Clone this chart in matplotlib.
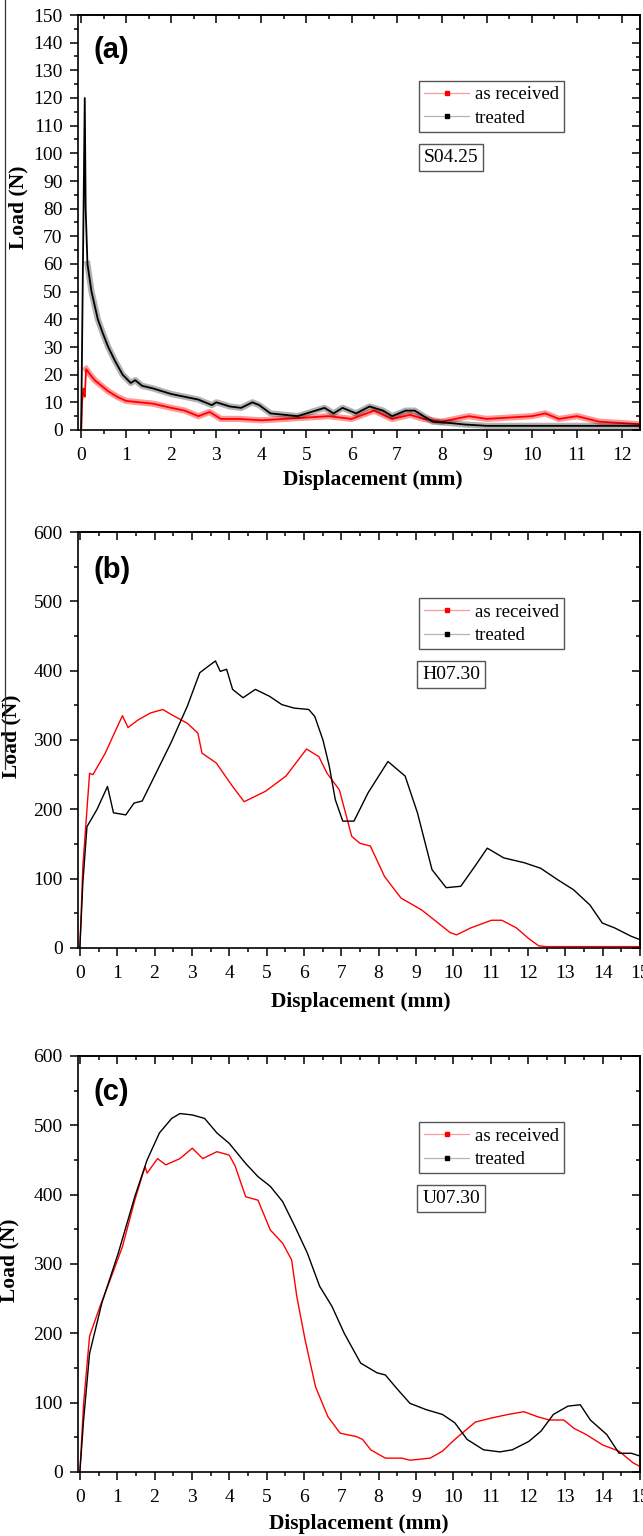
import numpy as np
import matplotlib
matplotlib.use('Agg')
import matplotlib.pyplot as plt
from matplotlib.ticker import MultipleLocator
from matplotlib.lines import Line2D

plt.rcParams['font.family'] = ['Liberation Serif', 'DejaVu Serif']
plt.rcParams['axes.linewidth'] = 1.2

# ---- data ----
# (a) S04.25
a_x_recv = [0, 0.02, 0.05, 0.08, 0.11, 0.2, 0.3, 0.45, 0.6, 0.8,
            1.0, 1.3, 1.6, 2.0, 2.3, 2.6, 2.85, 3.1, 3.5, 4.0,
            4.5, 5.0, 5.5, 6.0, 6.5, 6.9, 7.3, 7.6, 8.0, 8.3,
            8.6, 9.0, 9.5, 10.0, 10.3, 10.6, 11.0, 11.5, 12.0, 12.45]
a_y_recv = [0, 10, 15, 12, 22, 20, 18, 16, 14, 12,
            10.5, 10, 9.5, 8, 7, 5, 6.5, 4, 4, 3.5,
            4, 4.5, 5, 4, 7, 4, 5.5, 4, 3, 4,
            5, 4, 4.5, 5, 6, 4, 5, 3, 2.5, 2]
a_x_treat = [0, 0.04, 0.08, 0.1, 0.14, 0.23, 0.3, 0.37, 0.48, 0.6,
             0.75, 0.92, 1.1, 1.2, 1.35, 1.6, 2.0, 2.3, 2.6, 2.9,
             3.0, 3.3, 3.55, 3.8, 3.95, 4.2, 4.5, 4.8, 5.2, 5.4,
             5.6, 5.8, 6.1, 6.4, 6.7, 6.9, 7.2, 7.4, 7.6, 7.8,
             8.2, 8.5, 9.0, 10.0, 11.0, 12.0, 12.45]
a_y_treat = [0, 60, 120, 80, 60, 50, 45, 40, 35, 30,
             25, 20, 17, 18, 16, 15, 13, 12, 11, 9,
             10, 8.5, 8, 10, 9, 6, 5.5, 5, 7, 8,
             6, 8, 6, 8.5, 7, 5, 7, 7, 5, 3,
             2.5, 2, 1.5, 1.5, 1.5, 1.5, 1.5]

# (b) H07.30
b_x_recv = [0, 0.08, 0.26, 0.35, 0.68, 1.01, 1.14, 1.29, 1.56, 1.89,
            2.22, 2.44, 2.88, 3.16, 3.27, 3.65, 4.09, 4.40, 4.97, 5.52,
            6.07, 6.40, 6.62, 6.95, 7.28, 7.50, 7.78, 8.16, 8.60, 9.15,
            9.48, 9.92, 10.09, 10.47, 11.02, 11.30, 11.69, 12.01, 12.29, 12.5,
            13.5, 15.0]
b_y_recv = [0, 118, 252, 250, 281, 320, 335, 318, 329, 339,
            344, 337, 324, 310, 281, 267, 233, 211, 226, 248,
            287, 276, 252, 228, 161, 151, 147, 103, 72, 55,
            41, 22, 19, 29, 40, 40, 29, 14, 3, 2,
            2, 2]
b_x_treat = [0, 0.08, 0.19, 0.46, 0.74, 0.90, 1.23, 1.45, 1.67, 2.0,
             2.44, 2.88, 3.21, 3.43, 3.63, 3.76, 3.93, 4.09, 4.37, 4.70,
             5.08, 5.41, 5.74, 6.13, 6.29, 6.51, 6.68, 6.84, 7.04, 7.34,
             7.72, 8.25, 8.71, 9.04, 9.43, 9.81, 10.20, 10.58, 10.91, 11.35,
             11.90, 12.34, 12.78, 13.22, 13.66, 13.99, 14.32, 14.76, 15.0]
b_y_treat = [0, 94, 175, 200, 233, 195, 192, 209, 212, 248,
             296, 349, 397, 406, 414, 399, 402, 373, 361, 373,
             363, 351, 346, 344, 334, 300, 262, 214, 183, 183,
             224, 269, 248, 195, 113, 87, 89, 118, 144, 130,
             123, 115, 99, 84, 62, 36, 29, 17, 12]

# (c) U07.30
c_x_recv = [0, 0.10, 0.26, 0.54, 0.81, 1.14, 1.47, 1.69, 1.75, 1.80,
            2.08, 2.30, 2.68, 3.01, 3.29, 3.67, 4.0, 4.16, 4.44, 4.77,
            5.10, 5.43, 5.67, 5.81, 6.03, 6.31, 6.64, 6.97, 7.41, 7.57,
            7.79, 8.18, 8.62, 8.84, 9.38, 9.71, 10.04, 10.59, 11.03, 11.47,
            11.89, 12.24, 12.57, 12.96, 13.23, 13.56, 14.0, 14.44, 14.82, 15.0]
c_y_recv = [0, 99, 196, 239, 277, 325, 392, 431, 440, 431,
            452, 443, 452, 467, 452, 462, 457, 441, 397, 392,
            349, 330, 306, 253, 191, 123, 80, 56, 51, 47,
            32, 20, 20, 17, 20, 30, 47, 72, 78, 83,
            87, 80, 75, 75, 63, 54, 39, 30, 13, 8]
c_x_treat = [0, 0.10, 0.26, 0.59, 1.03, 1.47, 1.80, 2.13, 2.46, 2.68,
             3.01, 3.34, 3.67, 4.0, 4.44, 4.77, 5.10, 5.43, 5.76, 6.09,
             6.42, 6.75, 7.08, 7.52, 7.96, 8.18, 8.51, 8.84, 9.27, 9.71,
             10.04, 10.37, 10.81, 11.25, 11.58, 12.02, 12.35, 12.68, 13.07, 13.40,
             13.67, 14.11, 14.44, 14.77, 15.0]
c_y_treat = [0, 75, 171, 244, 316, 397, 450, 489, 510, 517,
             515, 510, 489, 474, 445, 426, 412, 390, 354, 316,
             268, 239, 200, 157, 143, 140, 119, 99, 90, 83,
             71, 47, 32, 29, 32, 44, 59, 83, 95, 97,
             75, 54, 27, 27, 23]

panel_tags = ['(a)', '(b)', '(c)']
sample_names = ['S04.25', 'H07.30', 'U07.30']
series_names = ['as received', 'treated']

W, H = 643, 1536
fig = plt.figure(figsize=(W / 100, H / 100), dpi=100)


def make_axes(top, bottom, left=78, right=640):
    return fig.add_axes([left / W, 1 - bottom / H, (right - left) / W, (bottom - top) / H])


def style_axes(ax, xmax, ymax, ymaj, ymin_step, xlim_lo):
    ax.set_xlim(xlim_lo, xmax)
    ax.set_ylim(0, ymax)
    ax.xaxis.set_major_locator(MultipleLocator(1))
    ax.xaxis.set_minor_locator(MultipleLocator(0.5))
    ax.yaxis.set_major_locator(MultipleLocator(ymaj))
    ax.yaxis.set_minor_locator(MultipleLocator(ymin_step))
    ax.tick_params(which='both', direction='out', width=1.1, labelsize=14)
    ax.tick_params(axis='x', pad=6.5)
    ax.tick_params(axis='y', pad=5)
    ax.tick_params(which='major', length=6)
    ax.tick_params(which='minor', length=3)
    # mirrored ticks pointing inwards on top/right
    top = ax.secondary_xaxis('top')
    top.xaxis.set_major_locator(MultipleLocator(1))
    top.xaxis.set_minor_locator(MultipleLocator(0.5))
    top.tick_params(which='both', direction='in', labeltop=False, width=1.1)
    top.tick_params(which='major', length=5.5)
    top.tick_params(which='minor', length=3)
    right = ax.secondary_yaxis('right')
    right.yaxis.set_major_locator(MultipleLocator(ymaj))
    right.yaxis.set_minor_locator(MultipleLocator(ymin_step))
    right.tick_params(which='both', direction='in', labelright=False, width=1.1)
    right.tick_params(which='major', length=5.5)
    right.tick_params(which='minor', length=3)


def decorate(ax, tag, sample, xlab_x, xlab_y, ylab_x, ylab_y, tag_y):
    ax.set_xlabel('Displacement (mm)', fontsize=15.5, fontweight='bold')
    ax.set_ylabel('Load (N)', fontsize=15.5, fontweight='bold')
    ax.xaxis.set_label_coords(xlab_x, xlab_y)
    ax.yaxis.set_label_coords(ylab_x, ylab_y)
    ax.text(0.027, tag_y, tag, transform=ax.transAxes, fontsize=21,
            fontweight='bold', family=['Liberation Sans', 'DejaVu Sans'],
            ha='left', va='center')
    handles = [
        Line2D([], [], color='#ff9a9a', lw=0.9, marker='s', markersize=2.5,
               markerfacecolor='red', markeredgecolor='red'),
        Line2D([], [], color='#b5b5b5', lw=0.9, marker='s', markersize=2.5,
               markerfacecolor='black', markeredgecolor='black'),
    ]
    leg = ax.legend(handles, series_names, loc='upper left',
                    bbox_to_anchor=(0.607, 0.841), borderaxespad=0,
                    fontsize=13.5, fancybox=False, framealpha=1,
                    handlelength=2.4, handletextpad=0.3, labelspacing=0.35,
                    borderpad=0.28)
    leg.get_frame().set_edgecolor('#555555')
    leg.get_frame().set_linewidth(1.0)
    ax.text(0.664, 0.657, sample, transform=ax.transAxes, fontsize=14,
            ha='center', va='center',
            bbox=dict(boxstyle='square,pad=0.25', fc='white', ec='#555555', lw=1.0))


# panel (a): noisy traces drawn as a soft band with a solid core
ax_a = make_axes(15, 430)
ax_a.plot(a_x_recv[4:], a_y_recv[4:], color='red', lw=4.5, alpha=0.4, solid_joinstyle='round')
ax_a.plot(a_x_recv, a_y_recv, color='red', lw=1.3)
ax_a.plot(a_x_treat[4:], a_y_treat[4:], color='black', lw=4.5, alpha=0.3, solid_joinstyle='round')
ax_a.plot(a_x_treat, a_y_treat, color='black', lw=1.3)
style_axes(ax_a, 12.4, 150, 10, 5, -0.07)
decorate(ax_a, panel_tags[0], sample_names[0], 0.525, -0.096, -0.088, 0.537, 0.916)

# panel (b)
ax_b = make_axes(532, 948)
ax_b.plot(b_x_recv, b_y_recv, color='red', lw=1.0)
ax_b.plot(b_x_treat, b_y_treat, color='black', lw=1.0)
style_axes(ax_b, 15, 600, 100, 50, -0.05)
decorate(ax_b, panel_tags[1], sample_names[1], 0.503, -0.106, -0.1, 0.51, 0.909)

# panel (c)
ax_c = make_axes(1056, 1472)
ax_c.plot(c_x_recv, c_y_recv, color='red', lw=1.0)
ax_c.plot(c_x_treat, c_y_treat, color='black', lw=1.0)
style_axes(ax_c, 15, 600, 100, 50, -0.05)
decorate(ax_c, panel_tags[2], sample_names[2], 0.5, -0.1, -0.104, 0.51, 0.913)

# stray page-border line on the left of the scan
fig.add_artist(Line2D([5 / W, 5 / W], [1, 1 - 769 / H], color='#333333', lw=0.9))

fig.savefig('out.png', dpi=100)
